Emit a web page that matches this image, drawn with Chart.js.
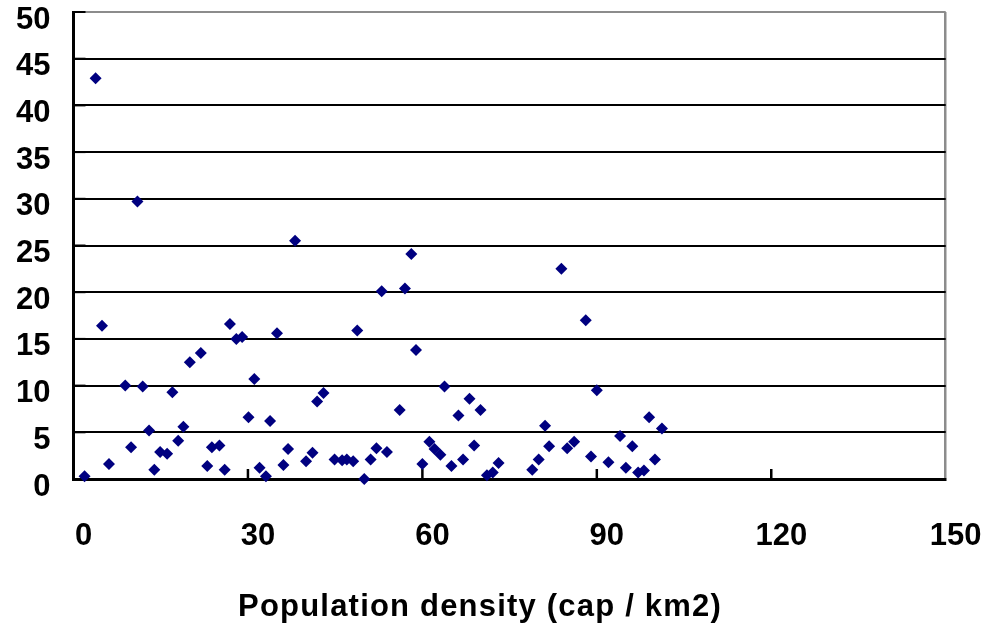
<!DOCTYPE html>
<html>
<head>
<meta charset="utf-8">
<script src="https://cdn.jsdelivr.net/npm/chart.js@4.4.0/dist/chart.umd.min.js"></script>
<style>
  html, body { margin: 0; padding: 0; background: #fff; overflow: hidden; }
  canvas { display: block; }
</style>
</head>
<body>
<canvas id="chart" width="1002" height="623"></canvas>
<script>
// Population density of each area (cap / km2)
const densityValues = [3.8, 4.9, 1.9, 6.1, 8.9, 9.9, 11.0, 11.9, 13.0, 13.9,
  14.9, 16.1, 17.0, 18.0, 18.9, 20.0, 21.9, 23.0, 23.8, 25.1,
  26.0, 26.9, 28.0, 29.0, 30.1, 31.1, 32.0, 33.1, 33.8, 35.0,
  36.1, 36.9, 38.1, 40.0, 41.1, 41.9, 43.0, 44.9, 46.2, 47.0,
  48.1, 48.8, 50.0, 51.1, 52.1, 53.0, 53.9, 56.1, 57.0, 58.1,
  58.9, 60.0, 61.2, 62.1, 63.1, 63.8, 65.0, 66.2, 67.0, 68.1,
  68.9, 70.0, 71.1, 72.1, 73.1, 78.9, 80.0, 81.1, 81.8, 83.9,
  84.9, 86.1, 88.1, 89.0, 90.0, 92.0, 94.0, 95.0, 96.1, 97.1,
  98.1, 99.0, 100.0, 101.2];

// Observed value for the same areas
const observedValues = [42.9, 16.4, 0.3, 1.6, 10.0, 3.4, 29.7, 9.9, 5.2, 1.0,
  2.9, 2.7, 9.3, 4.1, 5.6, 12.5, 13.5, 1.4, 3.4, 3.6,
  1.0, 16.6, 15.0, 15.2, 6.6, 10.7, 1.2, 0.3, 6.2, 15.6,
  1.5, 3.2, 25.5, 1.9, 2.8, 8.3, 9.2, 2.1, 2.0, 2.1,
  1.9, 15.9, 0.0, 2.1, 3.3, 20.1, 2.9, 7.4, 20.4, 24.1,
  13.8, 1.6, 4.0, 3.2, 2.6, 9.9, 1.4, 6.8, 2.1, 8.6,
  3.6, 7.4, 0.4, 0.7, 1.7, 1.0, 2.1, 5.7, 3.5, 22.5,
  3.3, 4.0, 17.0, 2.4, 9.5, 1.8, 4.6, 1.2, 3.5, 0.7,
  0.9, 6.6, 2.1, 5.4];

const xTickValues = [0, 30, 60, 90, 120, 150];
const yTickValues = [0, 5, 10, 15, 20, 25, 30, 35, 40, 45, 50];
const xAxisTitle = 'Population density (cap / km2)';

const points = densityValues.map((x, i) => ({ x: x, y: observedValues[i] }));

const FONT = "'Liberation Sans', Arial, sans-serif";

// Short tick marks pointing into the plot, plus the axis title under the labels
const frameExtras = {
  id: 'frameExtras',
  beforeDatasetsDraw(chart) {
    const { ctx, chartArea, scales } = chart;
    ctx.save();
    ctx.strokeStyle = '#000';
    ctx.lineWidth = 2.5;
    xTickValues.slice(1, -1).forEach(v => {
      const px = scales.x.getPixelForValue(v);
      ctx.beginPath();
      ctx.moveTo(px, chartArea.bottom);
      ctx.lineTo(px, chartArea.bottom - 10);
      ctx.stroke();
    });
    ctx.lineWidth = 2;
    yTickValues.forEach(v => {
      const py = scales.y.getPixelForValue(v);
      ctx.beginPath();
      ctx.moveTo(chartArea.left, py);
      ctx.lineTo(chartArea.left + 12, py);
      ctx.stroke();
    });
    ctx.restore();
  },
  afterDraw(chart, args, opts) {
    const { ctx } = chart;
    ctx.save();
    ctx.fillStyle = '#000';
    ctx.font = 'bold 31px ' + FONT;
    if ('letterSpacing' in ctx) ctx.letterSpacing = '1.2px';
    ctx.textAlign = 'center';
    ctx.textBaseline = 'alphabetic';
    ctx.fillText(opts.text, opts.x, opts.y);
    ctx.restore();
  }
};

new Chart(document.getElementById('chart'), {
  type: 'scatter',
  data: {
    datasets: [{
      data: points,
      pointStyle: 'rectRot',
      pointRadius: 6,
      pointHoverRadius: 6,
      backgroundColor: '#000080',
      borderColor: '#000080',
      borderWidth: 0,
      clip: false
    }]
  },
  options: {
    responsive: false,
    animation: false,
    devicePixelRatio: 1,
    layout: { padding: { top: 12, right: 56.3, left: 0, bottom: 0 } },
    plugins: {
      legend: { display: false },
      tooltip: { enabled: false },
      frameExtras: { text: xAxisTitle, x: 480, y: 616 }
    },
    scales: {
      x: {
        type: 'linear',
        min: 0,
        max: 150,
        afterBuildTicks: s => { s.ticks = xTickValues.map(v => ({ value: v })); },
        afterFit: s => { s.height = 144; s.paddingLeft = 0; s.paddingRight = 0; },
        grid: {
          drawTicks: false,
          lineWidth: 2.5,
          color: c => (c.tick && c.tick.value === 150 ? '#8c8c8c' : 'rgba(0,0,0,0)')
        },
        border: { display: true, color: '#000', width: 3 },
        ticks: {
          color: '#000',
          font: { family: FONT, size: 31, weight: 'bold' },
          padding: 39,
          labelOffset: 10,
          maxRotation: 0
        }
      },
      y: {
        type: 'linear',
        min: 0,
        max: 50,
        afterBuildTicks: s => { s.ticks = yTickValues.map(v => ({ value: v })); },
        afterFit: s => { s.width = 73.5; s.paddingTop = 0; s.paddingBottom = 0; },
        grid: {
          drawTicks: false,
          lineWidth: 2,
          color: c => (c.tick && c.tick.value === 50 ? '#8c8c8c' : '#000')
        },
        border: { display: true, color: '#000', width: 3 },
        ticks: {
          color: '#000',
          font: { family: FONT, size: 31, weight: 'bold' },
          padding: 23,
          labelOffset: 8
        }
      }
    }
  },
  plugins: [frameExtras]
});
</script>
</body>
</html>
